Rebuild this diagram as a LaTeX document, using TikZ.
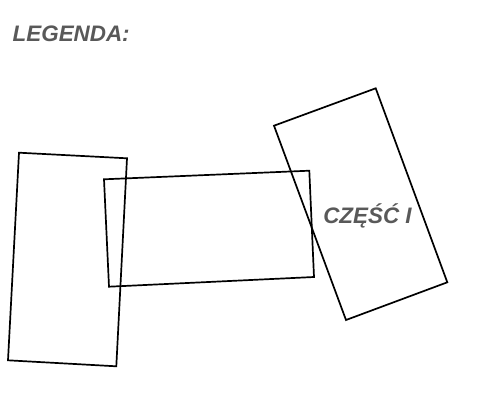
\documentclass[tikz,border=0pt]{standalone}
\usepackage{fontspec}
\setmainfont{Liberation Sans}
\begin{document}
\begin{tikzpicture}[x=1pt,y=-1pt,
  box/.style={draw=black,line width=1.7pt,line join=miter},
  lbl/.style={font=\fontsize{22.4}{26}\selectfont\bfseries\itshape,text=black!65,inner sep=0pt}]
\useasboundingbox (0,0) rectangle (485,405);
\draw[box] (19,152.7) -- (127,158.3) -- (116.3,366.3) -- (8,360.3) -- cycle;
\draw[box] (104,179.3) -- (309.3,170.7) -- (314,277) -- (109,286.7) -- cycle;
\draw[box] (274,125.7) -- (375.7,88.3) -- (447.3,282.3) -- (346,320) -- cycle;
\node[lbl,anchor=west] (legenda) at (12.5,33.5) {LEGENDA:};
\node[lbl] (czesc) at (367.5,215.5) {CZĘŚĆ I};
\end{tikzpicture}
\end{document}
